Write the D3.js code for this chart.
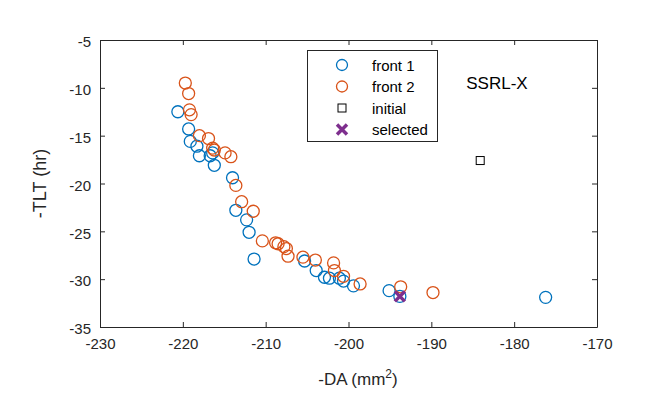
<!DOCTYPE html>
<html><head><meta charset="utf-8">
<script src="https://cdn.jsdelivr.net/npm/d3@7"></script>
<style>body{margin:0;background:#fff}svg{display:block;font-family:"Liberation Sans",Arial,Helvetica,sans-serif}</style>
</head><body>
<script>
const front1X = [-220.6,-219.3,-219.1,-218.3,-218.0,-216.7,-216.4,-216.2,-214.0,-213.6,-212.3,-212.0,-211.4,-205.3,-203.9,-202.9,-202.3,-201.1,-200.6,-199.4,-195.1,-193.8,-176.2];
const front1Y = [-12.5,-14.3,-15.6,-16.1,-17.1,-17.1,-16.8,-18.1,-19.4,-22.8,-23.8,-25.1,-27.9,-28.1,-29.1,-29.8,-29.9,-29.9,-30.2,-30.7,-31.2,-31.8,-31.9];
const front2X = [-219.7,-219.3,-219.2,-219.0,-218.0,-216.9,-216.4,-216.2,-214.9,-214.2,-213.6,-212.9,-211.5,-210.4,-208.8,-208.5,-207.8,-207.5,-207.3,-205.5,-204.0,-201.8,-201.7,-200.6,-198.6,-193.7,-189.8];
const front2Y = [-9.5,-10.6,-12.3,-12.8,-15.0,-15.3,-16.3,-16.5,-16.8,-17.2,-20.2,-21.9,-22.9,-26.0,-26.2,-26.3,-26.6,-26.8,-27.6,-27.7,-28.0,-28.3,-29.1,-29.7,-30.5,-30.8,-31.4];
const initialX = [-184.1];
const initialY = [-17.6];
const selectedX = [-193.8];
const selectedY = [-31.8];
const xTicks = [-230,-220,-210,-200,-190,-180,-170];
const yTicks = [-35,-30,-25,-20,-15,-10,-5];
const legendLabels = ["front 1","front 2","initial","selected"];
const annotation = "SSRL-X";

const W=664,H=399;
const m={l:100,r:597,t:40,b:327};
const ax="#262626";
const blue="#0072BD",orange="#D95319",purple="#7E2F8E";
const svg=d3.select("body").append("svg").attr("width",W).attr("height",H);
const x=d3.scaleLinear().domain([-230,-170]).range([m.l,m.r]);
const y=d3.scaleLinear().domain([-35,-5]).range([m.b,m.t]);

const tickFont=15;
function styleAxis(g){g.select(".domain").attr("stroke",ax).attr("stroke-width",1);
  g.selectAll(".tick line").attr("stroke",ax).attr("stroke-width",1);
  g.selectAll(".tick text").attr("fill",ax).style("font-size",tickFont+"px").style("font-family","'Liberation Sans',Arial,sans-serif");}
svg.append("g").attr("transform",`translate(0,${m.b})`).call(d3.axisBottom(x).tickValues(xTicks).tickSize(-5).tickPadding(11).tickSizeOuter(0)).call(styleAxis);
svg.append("g").attr("transform",`translate(0,${m.t})`).call(d3.axisTop(x).tickValues(xTicks).tickSize(-5).tickFormat("").tickSizeOuter(0)).call(styleAxis);
svg.append("g").attr("transform",`translate(${m.l},0)`).call(d3.axisLeft(y).tickValues(yTicks).tickSize(-5).tickPadding(9).tickSizeOuter(0)).call(styleAxis);
svg.append("g").attr("transform",`translate(${m.r},0)`).call(d3.axisRight(y).tickValues(yTicks).tickSize(-5).tickFormat("").tickSizeOuter(0)).call(styleAxis);
svg.selectAll(".tick text").text(function(){return d3.select(this).text().replace("\u2212","-");});
svg.selectAll(".tick text").filter(function(){return this.getAttribute("x")&&+this.getAttribute("x")<0;}).attr("dy","0.45em");

svg.append("text").attr("x",358).attr("y",385).attr("text-anchor","middle").attr("fill",ax).style("font-size","17px")
  .call(t=>{t.append("tspan").text("-DA (mm");t.append("tspan").attr("dy",-7).style("font-size","12px").text("2");t.append("tspan").attr("dy",7).text(")");});
svg.append("text").attr("transform",`translate(46,${(m.t+m.b)/2}) rotate(-90)`).attr("text-anchor","middle").attr("fill",ax).style("font-size","18px").text("-TLT (hr)");

const d1=front1X.map((v,i)=>[v,front1Y[i]]);
const d2=front2X.map((v,i)=>[v,front2Y[i]]);
svg.append("g").selectAll("circle").data(d1).join("circle").attr("cx",d=>x(d[0])).attr("cy",d=>y(d[1])).attr("r",6).attr("fill","none").attr("stroke",blue).attr("stroke-width",1.3);
svg.append("g").selectAll("circle").data(d2).join("circle").attr("cx",d=>x(d[0])).attr("cy",d=>y(d[1])).attr("r",6).attr("fill","none").attr("stroke",orange).attr("stroke-width",1.3);
svg.append("g").selectAll("rect").data(initialX.map((v,i)=>[v,initialY[i]])).join("rect").attr("x",d=>x(d[0])-4).attr("y",d=>y(d[1])-4).attr("width",8).attr("height",8).attr("fill","none").attr("stroke","#000").attr("stroke-width",1);
function cross(g,cx,cy,s){g.append("path").attr("d",`M${cx-s},${cy-s}L${cx+s},${cy+s}M${cx-s},${cy+s}L${cx+s},${cy-s}`).attr("stroke",purple).attr("stroke-width",3.5).attr("fill","none");}
selectedX.forEach((v,i)=>cross(svg,x(v),y(selectedY[i]),5));

svg.append("text").attr("x",497).attr("y",89).attr("text-anchor","middle").style("font-size","17px").attr("fill","#000").text(annotation);

const lg=svg.append("g");
lg.append("rect").attr("x",307.5).attr("y",50.5).attr("width",130).attr("height",91).attr("fill","#fff").attr("stroke",ax).attr("stroke-width",1);
const ly=[65,86.5,108,129.5];
const mx=342;
lg.append("circle").attr("cx",mx).attr("cy",ly[0]).attr("r",5.5).attr("fill","none").attr("stroke",blue).attr("stroke-width",1.3);
lg.append("circle").attr("cx",mx).attr("cy",ly[1]).attr("r",5.5).attr("fill","none").attr("stroke",orange).attr("stroke-width",1.3);
lg.append("rect").attr("x",mx-4).attr("y",ly[2]-4).attr("width",8).attr("height",8).attr("fill","none").attr("stroke","#000");
cross(lg,mx,ly[3],5);
legendLabels.forEach((t,i)=>lg.append("text").attr("x",372).attr("y",ly[i]+5.5).style("font-size","15px").attr("fill","#000").text(t));
</script>
</body></html>
